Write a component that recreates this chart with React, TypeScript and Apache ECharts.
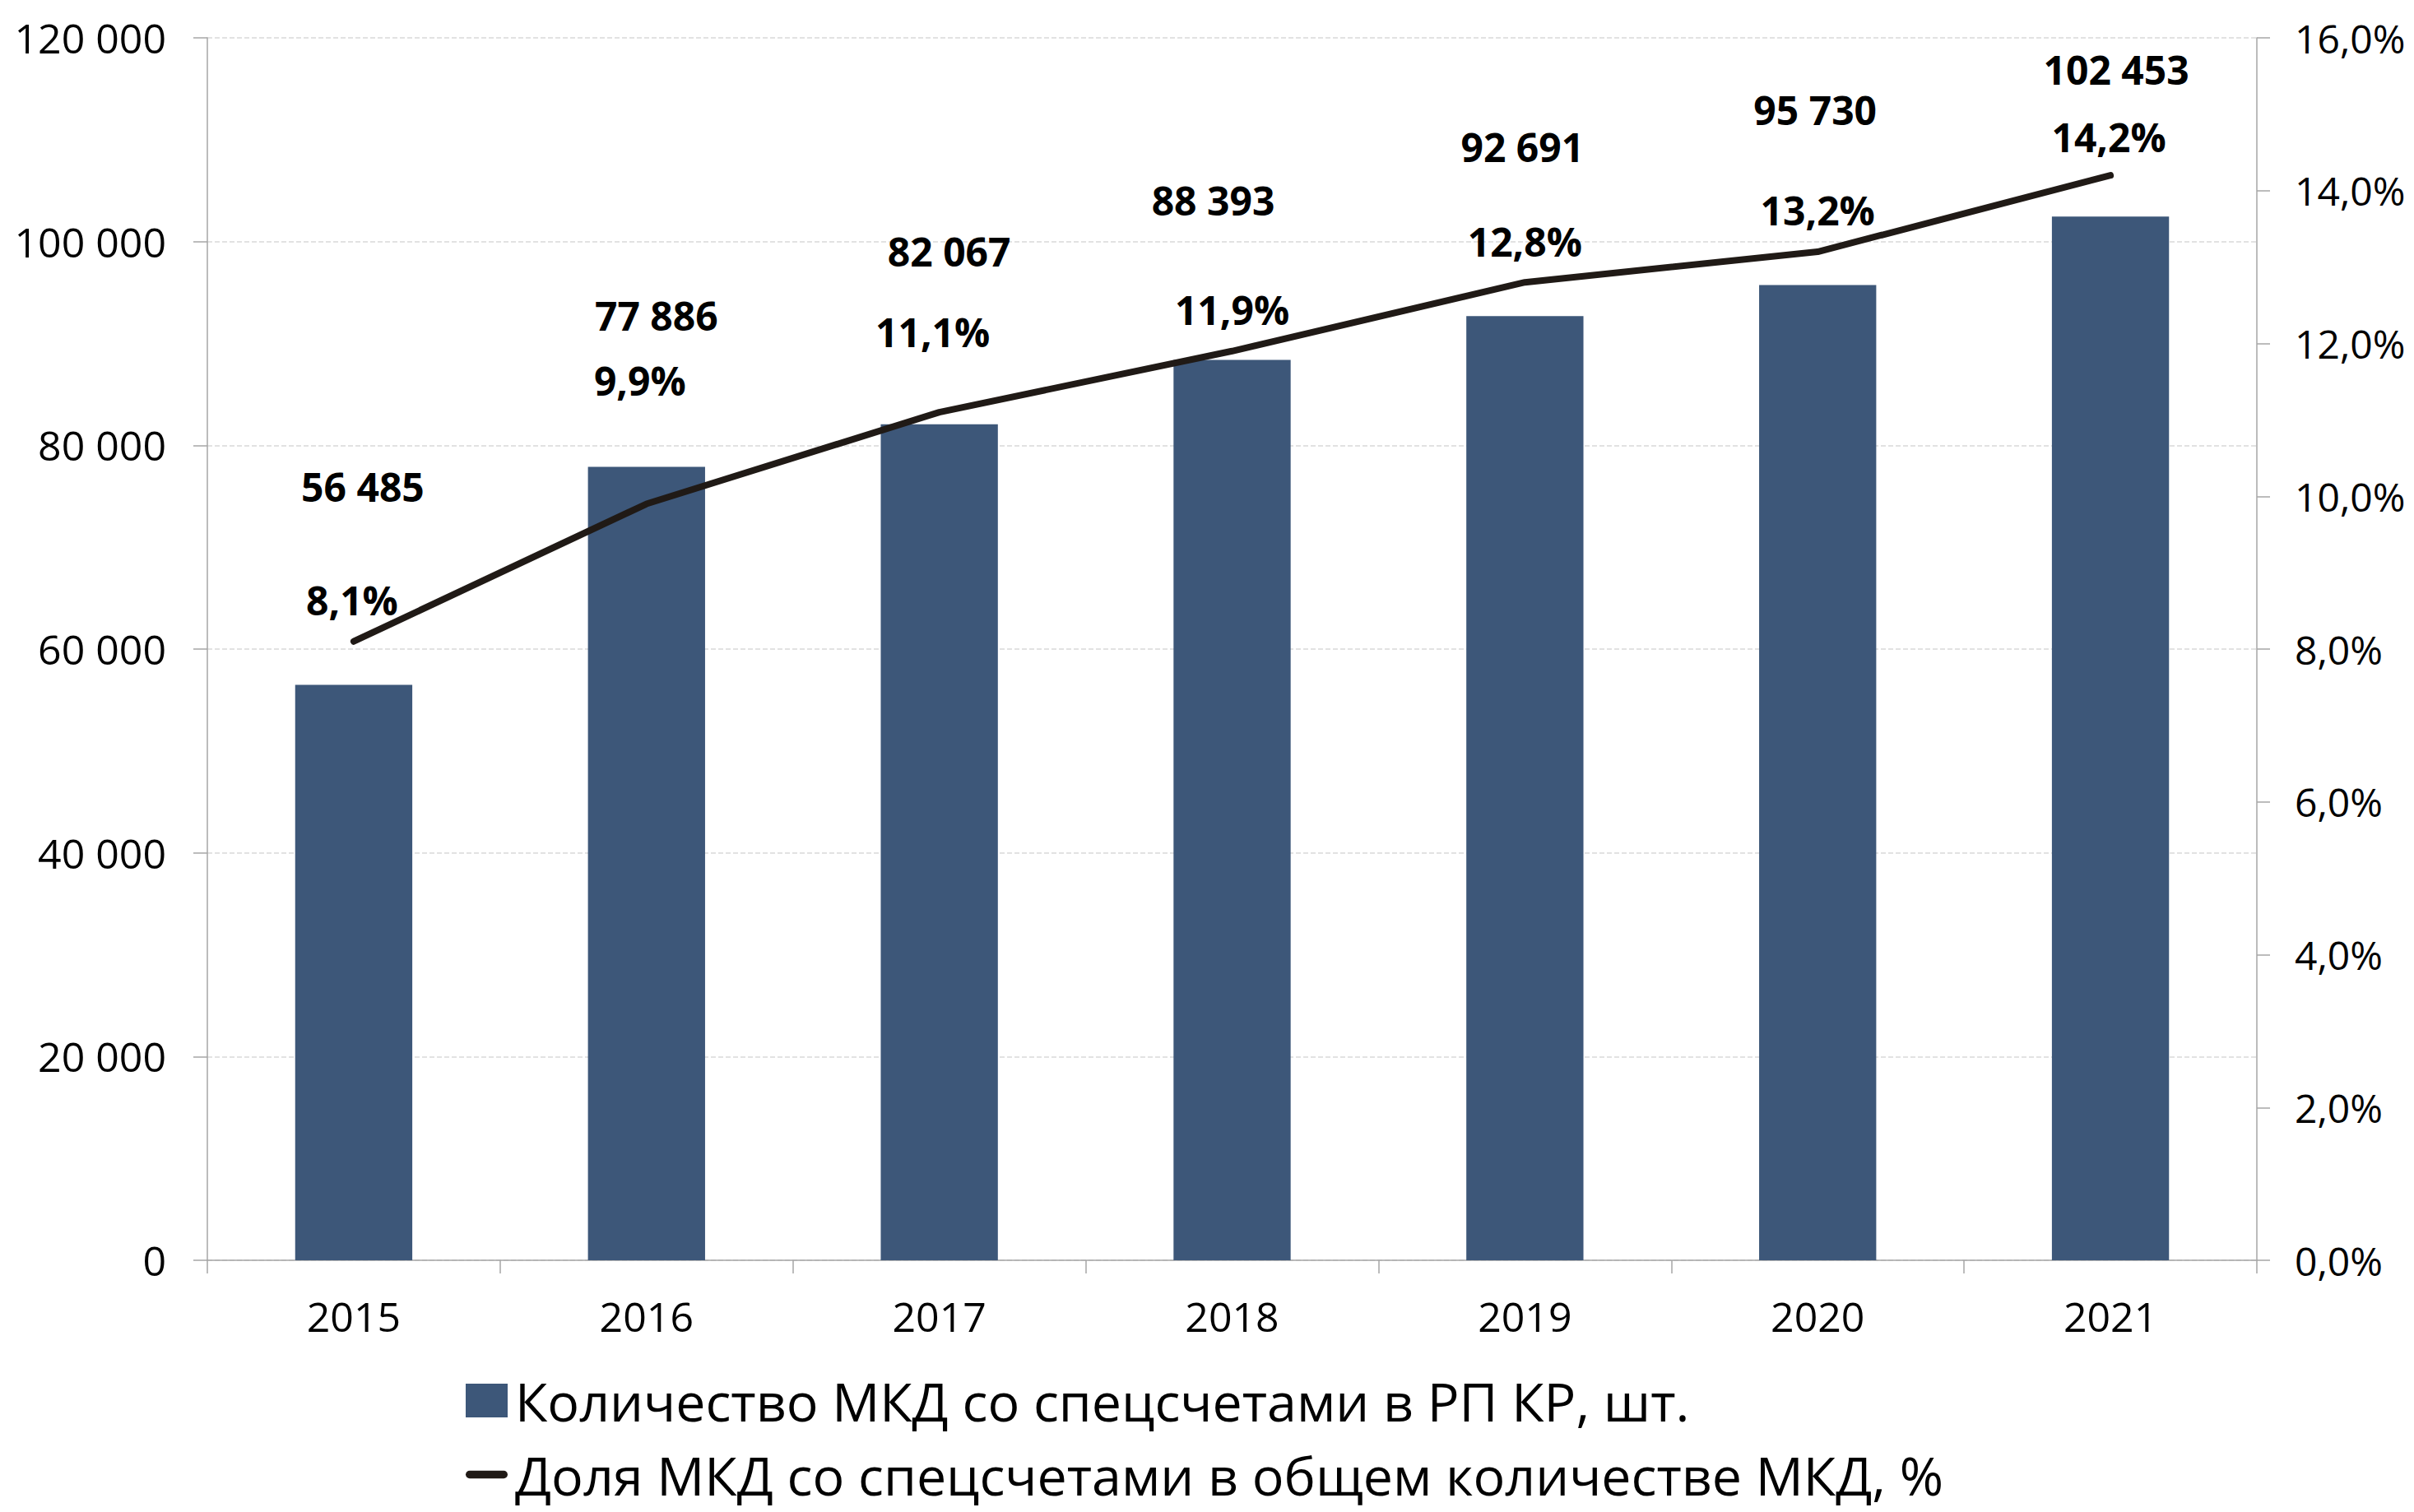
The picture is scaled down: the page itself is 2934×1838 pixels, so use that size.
import React, { useEffect, useRef } from "react";
import * as echarts from "echarts";

const categories = ["2015", "2016", "2017", "2018", "2019", "2020", "2021"];
const houseCounts = [56485, 77886, 82067, 88393, 92691, 95730, 102453];
const sharePercent = [8.1, 9.9, 11.1, 11.9, 12.8, 13.2, 14.2];

const barSeriesName = "Количество МКД со спецсчетами в РП КР, шт.";
const lineSeriesName = "Доля МКД со спецсчетами в общем количестве МКД, %";

// label placement (pixels: [dx, distance above mark to label centre])
const barLabelShift = [
  [11, 241],
  [12, 184],
  [12, 210],
  [-23, 194],
  [-3, 206],
  [-3, 213],
  [7, 179],
];
const lineLabelShift = [
  [-2, 50],
  [-8, 150],
  [-8, 97],
  [0, 50],
  [0, 49],
  [0, 50],
  [-2, 46],
];

const FONT = "'Open Sans', 'Liberation Sans', sans-serif";
const BAR_COLOR = "#3D5779";
const LINE_COLOR = "#201A16";
const AXIS_COLOR = "#A6A6A6";
const LINE_ICON =
  "path://M5.5,0 L53.5,0 A5.5,5.5 0 0 1 53.5,11 L5.5,11 A5.5,5.5 0 0 1 5.5,0 Z";

const fmtThousands = (v: number) =>
  String(Math.round(v)).replace(/\B(?=(\d{3})+(?!\d))/g, " ");
const fmtPct = (v: number) => v.toFixed(1).replace(".", ",") + "%";

const legendBase = {
  orient: "horizontal",
  left: 561,
  itemWidth: 51,
  itemHeight: 41,
  symbolKeepAspect: true,
  textStyle: {
    fontFamily: FONT,
    fontSize: 64.5,
    color: "#000",
    lineHeight: 65,
    padding: [0, 0, 0, 4],
  },
};

export default function App() {
  const ref = useRef<HTMLDivElement>(null);

  useEffect(() => {
    document.body.style.margin = "0";
    if (!ref.current) return;
    const chart = echarts.init(ref.current, undefined, { renderer: "svg" });

    const barData = houseCounts.map((v, i) => ({
      value: v,
      label: { offset: [barLabelShift[i][0], -barLabelShift[i][1]] },
    }));
    const lineData = sharePercent.map((v, i) => ({
      value: v,
      label: { offset: [lineLabelShift[i][0], -lineLabelShift[i][1]] },
    }));

    chart.setOption({
      animation: false,
      backgroundColor: "#ffffff",
      textStyle: { fontFamily: FONT },
      grid: { left: 252, right: 191, top: 46, bottom: 306, containLabel: false },
      legend: [
        {
          ...legendBase,
          top: 1665,
          data: [{ name: barSeriesName, icon: "rect", itemStyle: { color: BAR_COLOR } }],
        },
        {
          ...legendBase,
          top: 1755,
          data: [
            {
              name: lineSeriesName,
              icon: LINE_ICON,
              itemStyle: { color: LINE_COLOR, borderWidth: 0 },
              lineStyle: { width: 0 },
            },
          ],
        },
      ],
      xAxis: {
        type: "category",
        data: categories,
        boundaryGap: true,
        axisLine: { lineStyle: { color: AXIS_COLOR, width: 1.5 } },
        axisTick: { show: true, length: 16, lineStyle: { color: AXIS_COLOR, width: 1.5 } },
        axisLabel: { color: "#000", fontSize: 50, fontFamily: FONT, margin: 43 },
      },
      yAxis: [
        {
          type: "value",
          min: 0,
          max: 120000,
          interval: 20000,
          axisLine: { show: true, lineStyle: { color: AXIS_COLOR, width: 1.5 } },
          axisTick: { show: true, length: 17, lineStyle: { color: AXIS_COLOR, width: 1.5 } },
          axisLabel: {
            color: "#000",
            fontSize: 50,
            fontFamily: FONT,
            margin: 50,
            formatter: (v: number) => fmtThousands(v),
          },
          splitLine: {
            show: true,
            lineStyle: { color: "#D9D9D9", width: 1.5, type: [6, 3] },
          },
        },
        {
          type: "value",
          min: 0,
          max: 16,
          interval: 2,
          position: "right",
          axisLine: { show: true, lineStyle: { color: AXIS_COLOR, width: 1.5 } },
          axisTick: { show: true, length: 16, lineStyle: { color: AXIS_COLOR, width: 1.5 } },
          axisLabel: {
            color: "#000",
            fontSize: 48,
            fontFamily: FONT,
            margin: 46,
            formatter: (v: number) => fmtPct(v),
          },
          splitLine: { show: false },
        },
      ],
      series: [
        {
          name: barSeriesName,
          type: "bar",
          yAxisIndex: 0,
          data: barData,
          barWidth: "40%",
          itemStyle: { color: BAR_COLOR },
          label: {
            show: true,
            position: "top",
            distance: 0,
            verticalAlign: "middle",
            color: "#000",
            fontFamily: FONT,
            fontWeight: "bold",
            fontSize: 48,
            formatter: (p: any) => fmtThousands(p.value),
          },
        },
        {
          name: lineSeriesName,
          type: "line",
          yAxisIndex: 1,
          data: lineData,
          showSymbol: true,
          symbol: "circle",
          symbolSize: 1,
          lineStyle: { color: LINE_COLOR, width: 8, cap: "round", join: "round" },
          itemStyle: { color: LINE_COLOR },
          z: 5,
          label: {
            show: true,
            position: "top",
            distance: 0,
            verticalAlign: "middle",
            color: "#000",
            fontFamily: FONT,
            fontWeight: "bold",
            fontSize: 48,
            formatter: (p: any) => fmtPct(p.value),
          },
        },
      ],
    });

    return () => chart.dispose();
  }, []);

  return <div ref={ref} style={{ width: 2934, height: 1838 }} />;
}
